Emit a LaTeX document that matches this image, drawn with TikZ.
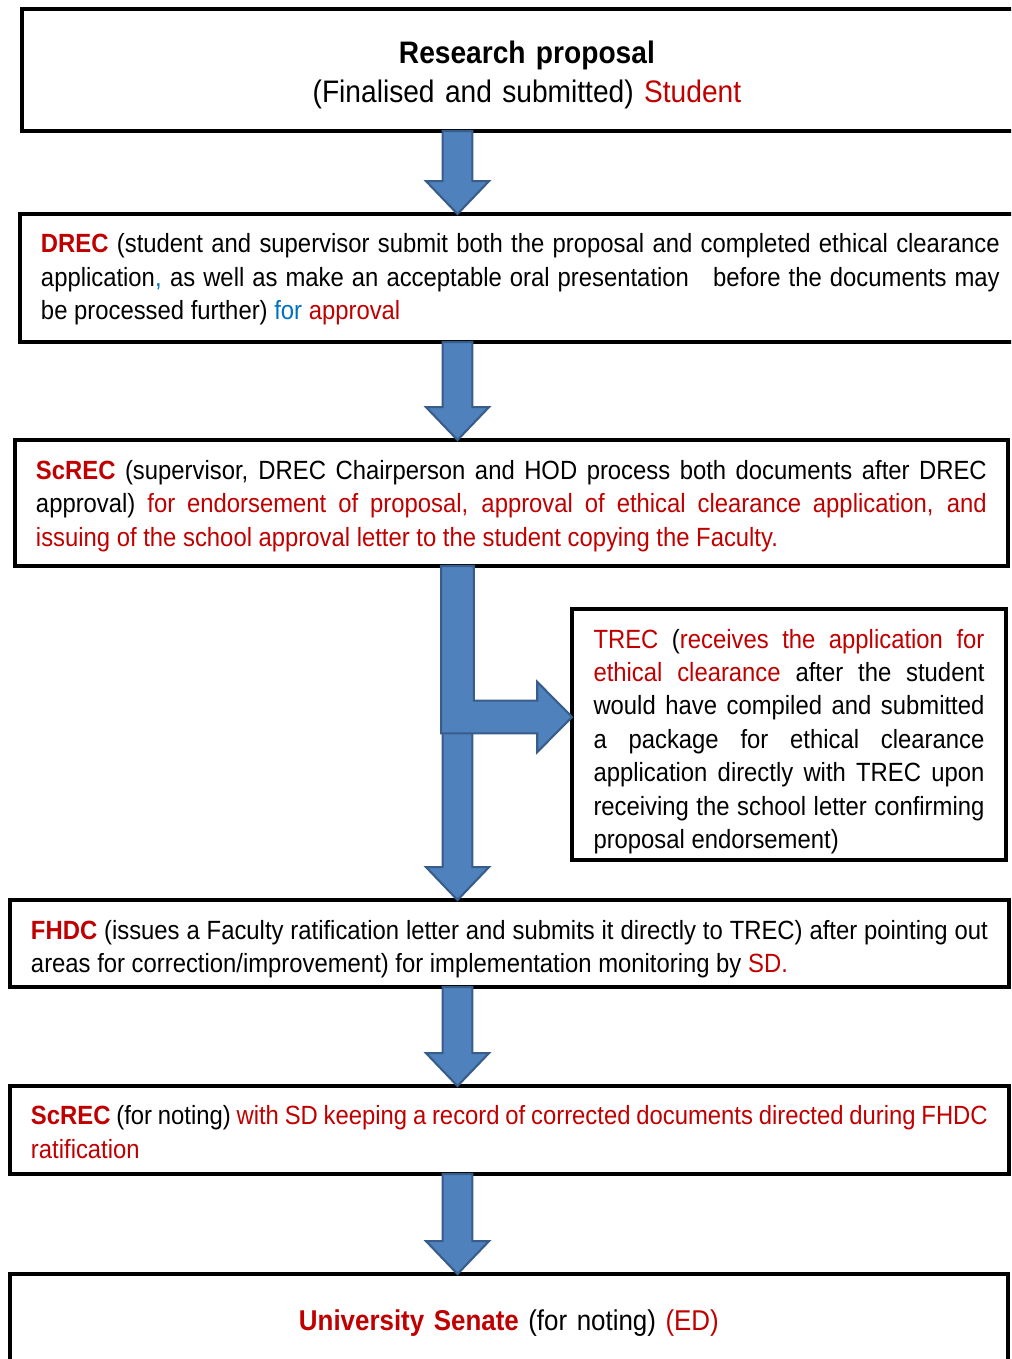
\documentclass[tikz,border=0pt]{standalone}
\usepackage{fontspec}
\setmainfont{Liberation Sans}[FakeStretch=0.905]
\usepackage{xcolor}
\usetikzlibrary{calc}
\definecolor{redtxt}{RGB}{192,0,0}
\definecolor{bluetxt}{RGB}{0,112,192}
\definecolor{arrowfill}{RGB}{79,129,189}
\definecolor{arrowline}{RGB}{56,93,138}
\newcommand{\rt}[1]{\textcolor{redtxt}{#1}}
\newcommand{\bt}[1]{\textcolor{bluetxt}{#1}}
% block arrow straight down the middle column, from one box to the next
\newcommand{\flowarrow}[2]{%
  \draw[blockarrow] let \p1=(#1.south -| col), \p2=(#2.north -| col) in
    (\x1-8.5pt,\y1) -- (\x1+8.5pt,\y1) -- (\x1+8.5pt,\y2+18.7pt) -- (\x1+17.9pt,\y2+18.7pt)
    -- (\x2,\y2) -- (\x1-17.9pt,\y2+18.7pt) -- (\x1-8.5pt,\y2+18.7pt) -- cycle;}

\begin{document}
\begin{tikzpicture}[x=0.02cm, y=-0.02cm,
  box/.style={draw, line width=2.3pt, outer sep=0pt, anchor=north west, inner ysep=0pt,
    inner xsep=0.42cm, align=justify, font=\fontsize{15pt}{19pt}\selectfont},
  bigbox/.style={box, align=center, font=\fontsize{17.7pt}{22.7pt}\selectfont},
  textdown/.style={execute at end node={\endgraf\vspace*{-#1}}},
  blockarrow/.style={fill=arrowfill, draw=arrowline, line width=1.2pt, line join=miter}]
  \clip (0,0) rectangle (1011,1359);
  \coordinate (col) at (457.5,0);
  \coordinate (fork) at (0,717);

  \node[bigbox, text width=19.36cm, minimum height=2.44cm, textdown=5.7pt] (proposal) at (22,9)
    {\textbf{Research proposal}\\(Finalised and submitted) \rt{Student}};
  \node[box, text width=19.18cm, minimum height=2.56cm, textdown=1.7pt] (drec) at (20,214)
    {\rt{\textbf{DREC}} (student and supervisor submit both the proposal and completed ethical clearance\linebreak
     application\bt{,} as well as make an acceptable oral presentation\ \ \ before the documents may\linebreak
     be processed further) \bt{for} \rt{approval}};
  \node[box, text width=19.02cm, minimum height=2.52cm, textdown=3.4pt] (screc) at (15,440)
    {\rt{\textbf{ScREC}} (supervisor, DREC Chairperson and HOD process both documents after DREC\linebreak
     approval) \rt{for endorsement of proposal, approval of ethical clearance application, and\linebreak
     issuing of the school approval letter to the student copying the Faculty.}};
  \node[box, line width=2pt, text width=7.82cm, inner xsep=0.43cm, minimum height=5.02cm, textdown=8pt] (trec) at (572,609)
    {\rt{TREC} (\rt{receives the application for\linebreak
     ethical clearance} after the student\linebreak
     would have compiled and submitted\linebreak
     a package for ethical clearance\linebreak
     application directly with TREC upon\linebreak
     receiving the school letter confirming\linebreak
     proposal endorsement)};
  \node[box, text width=19.14cm, minimum height=1.74cm, textdown=6.8pt] (fhdc) at (10,900)
    {\rt{\textbf{FHDC}} (issues a Faculty ratification letter and submits it directly to TREC) after pointing out\linebreak
     areas for correction/improvement) for implementation monitoring by \rt{SD.}};
  \node[box, text width=19.14cm, minimum height=1.76cm, textdown=2.3pt] (noting) at (10,1086)
    {\rt{\textbf{ScREC}} (for noting) \rt{with SD keeping a record of corrected documents directed during FHDC\linebreak
     ratification}};
  \node[bigbox, text width=19.12cm, minimum height=1.84cm, textdown=3.4pt,
    font=\fontsize{16.3pt}{20pt}\selectfont] (senate) at (10,1274)
    {\rt{\textbf{University Senate}} (for noting) \rt{(ED)}};

  \flowarrow{proposal}{drec}
  \flowarrow{drec}{screc}
  \flowarrow{screc}{fhdc}
  % side branch to TREC, lies over the long arrow
  \draw[blockarrow] let \p1=(screc.south -| col), \p2=(trec.west |- fork) in
    (\x1-9.3pt,\y1) -- (\x1+9.3pt,\y1) -- (\x1+9.3pt,\y2+9.3pt) -- (\x2-19.8pt,\y2+9.3pt)
    -- (\x2-19.8pt,\y2+20pt) -- (\x2,\y2) -- (\x2-19.8pt,\y2-20pt) -- (\x2-19.8pt,\y2-9.3pt)
    -- (\x1-9.3pt,\y2-9.3pt) -- cycle;
  \flowarrow{fhdc}{noting}
  \flowarrow{noting}{senate}
\end{tikzpicture}
\end{document}
